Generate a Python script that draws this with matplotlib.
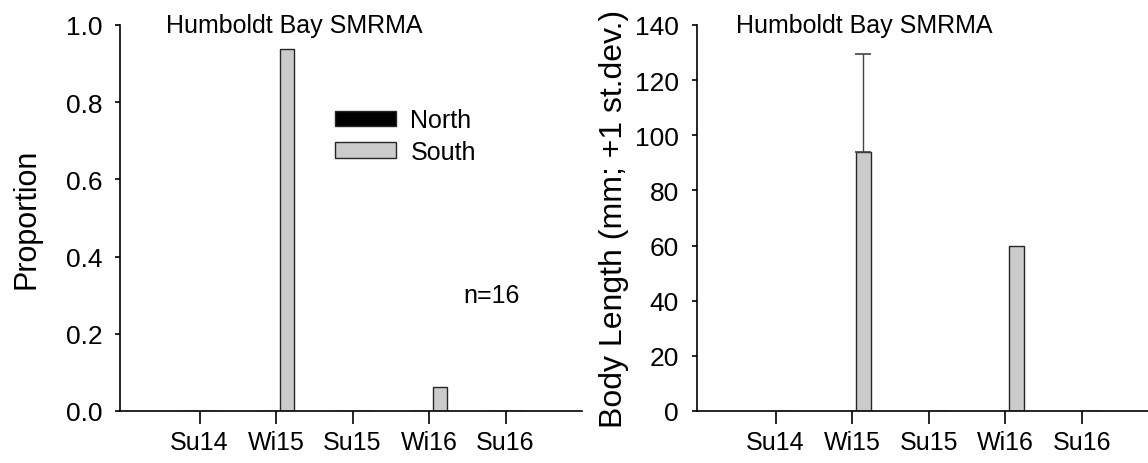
import matplotlib
matplotlib.use("Agg")
import matplotlib.pyplot as plt
import numpy as np

plt.rcParams['font.family'] = ['Liberation Sans', 'DejaVu Sans']

# Data
seasons = ["Su14", "Wi15", "Su15", "Wi16", "Su16"]
north_prop = [0, 0, 0, 0, 0]
south_prop = [0, 0.9375, 0, 0.0625, 0]
body_len = [0, 94, 0, 60, 0]
body_sd = [0, 35.5, 0, 0, 0]
site = "Humboldt Bay SMRMA"
n_label = "n=16"

x = np.arange(len(seasons))
bar_w = 0.19
off = 0.145
gray = '#cbcbcb'
edge = '#262626'

fig = plt.figure(figsize=(11.48, 4.64), dpi=100)

# left panel - proportion
ax1 = fig.add_axes([0.1045, 0.1121, 0.4025, 0.8319])
ax1.bar(x - off, north_prop, bar_w, color='black', edgecolor=edge, linewidth=1, label='North')
ax1.bar(x + off, south_prop, bar_w, color=gray, edgecolor=edge, linewidth=1, label='South')
ax1.set_xlim(-1.04, 5)
ax1.set_ylim(0, 1.0)
ax1.set_yticks([0, 0.2, 0.4, 0.6, 0.8, 1.0])
ax1.set_yticklabels(["0.0", "0.2", "0.4", "0.6", "0.8", "1.0"])
ax1.set_ylabel("Proportion", fontsize=22, va='center')
ax1.yaxis.set_label_coords(-0.203, 0.5)
ax1.text(0.0996, 1.0, site, transform=ax1.transAxes, fontsize=18, ha='left', va='center')
ax1.text(3.82, 0.30, n_label, fontsize=18, ha='center', va='center')
leg = ax1.legend(loc='center left', bbox_to_anchor=(335 / 1148, 1 - 137 / 464),
                 bbox_transform=fig.transFigure, frameon=False, fontsize=18,
                 handlelength=2.44, handleheight=0.6, handletextpad=0.58,
                 labelspacing=0.3, borderpad=0, borderaxespad=0)

# right panel - body length (runs off the right edge like the original)
ax2 = fig.add_axes([0.6068, 0.1121, 0.4025, 0.8319])
ax2.bar(x + off, body_len, bar_w, color=gray, edgecolor=edge, linewidth=1)
ax2.errorbar(x[1] + off, body_len[1], yerr=[[0], [body_sd[1]]], fmt='none',
             ecolor='#444444', elinewidth=1, capsize=6, capthick=1.2)
ax2.set_xlim(-1.03, 5)
ax2.set_ylim(0, 140)
ax2.set_yticks(np.arange(0, 141, 20))
ax2.set_ylabel("Body Length (mm; +1 st.dev.)", fontsize=23, va='center')
ax2.yaxis.set_label_coords(-0.178, 0.5)
ax2.text(0.086, 1.0, site, transform=ax2.transAxes, fontsize=18, ha='left', va='center')

for ax in [ax1, ax2]:
    ax.spines['top'].set_visible(False)
    ax.spines['right'].set_visible(False)
    ax.spines['left'].set_linewidth(1.2)
    ax.spines['bottom'].set_linewidth(1.2)
    ax.set_xticks(x)
    ax.set_xticklabels(seasons)
    ax.tick_params(axis='x', direction='out', length=9.5, width=1.2, labelsize=18, pad=4)
    ax.tick_params(axis='y', direction='out', length=3.6, width=1.2, labelsize=19, pad=9)

fig.savefig("out.png", dpi=100)
